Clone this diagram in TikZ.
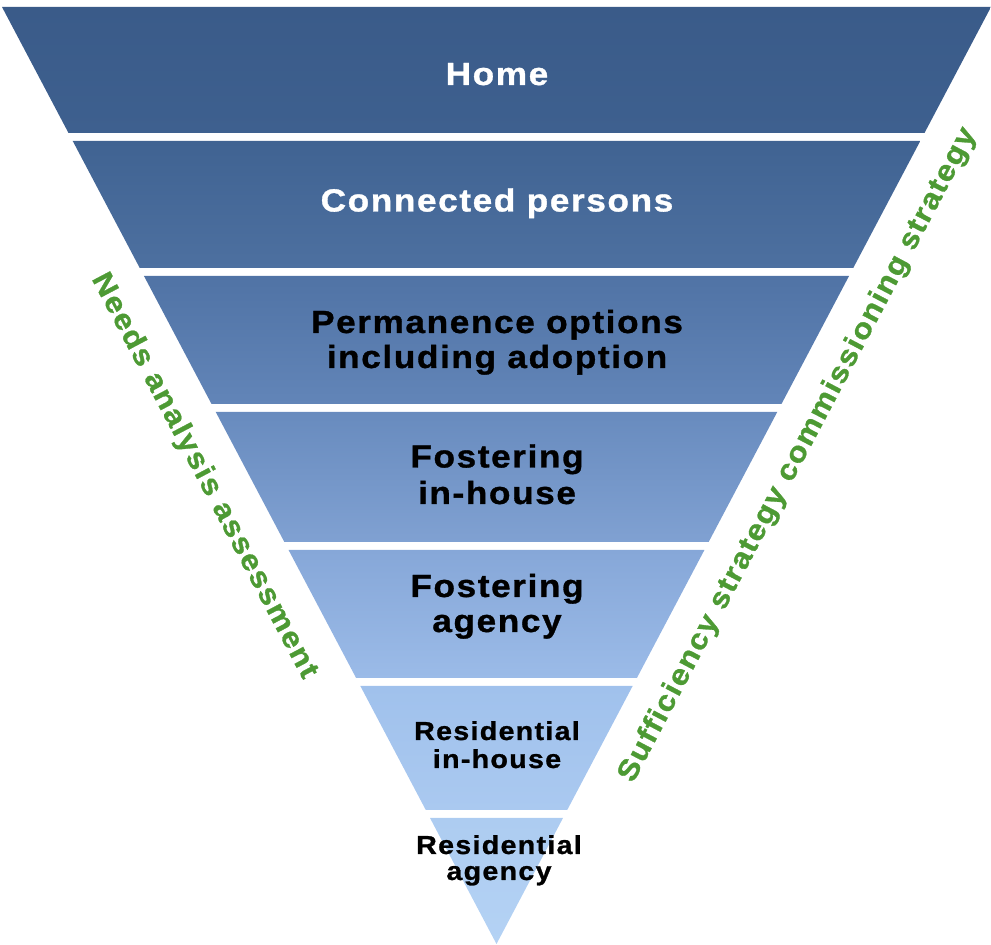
\documentclass[tikz,border=0pt]{standalone}
\usepackage{fontspec}
\newfontfamily\lblfont[FakeStretch=1.1,LetterSpace=5,FakeBold=1]{Liberation Sans}
\usetikzlibrary{calc}

% band colours, top to bottom
\definecolor{bandAt}{RGB}{58,91,137}   \definecolor{bandAb}{RGB}{62,96,143}
\definecolor{bandBt}{RGB}{64,99,146}   \definecolor{bandBb}{RGB}{77,112,160}
\definecolor{bandCt}{RGB}{80,115,165}  \definecolor{bandCb}{RGB}{98,133,184}
\definecolor{bandDt}{RGB}{104,139,190} \definecolor{bandDb}{RGB}{128,161,210}
\definecolor{bandEt}{RGB}{134,167,216} \definecolor{bandEb}{RGB}{155,187,232}
\definecolor{bandFt}{RGB}{160,193,236} \definecolor{bandFb}{RGB}{170,201,240}
\definecolor{bandGt}{RGB}{173,204,241} \definecolor{bandGb}{RGB}{180,210,244}
\definecolor{sidegreen}{RGB}{77,154,52}

\tikzset{
  bigtxt/.style={anchor=base, inner sep=0pt, font=\lblfont\bfseries\fontsize{32}{35}\selectfont},
  smalltxt/.style={anchor=base, inner sep=0pt, font=\lblfont\bfseries\fontsize{26}{28}\selectfont, text=black},
  sidetxt/.style={inner sep=0pt, text=sidegreen, font=\lblfont\bfseries\fontsize{29}{32}\selectfont},
}

\begin{document}
\begin{tikzpicture}[x=1pt,y=1pt]
\useasboundingbox (0,0) rectangle (991,945);

% corners of the inverted triangle
\coordinate (tl) at (2,938);
\coordinate (tr) at (991,938);
\coordinate (apex) at (496.5,1);

% the seven shaded bands, each a trapezoid cut from the triangle
\foreach \t/\b/\ct/\cb in {938/812/bandAt/bandAb, 804/677/bandBt/bandBb,
    669/541/bandCt/bandCb, 533/403/bandDt/bandDb, 395/267/bandEt/bandEb,
    259/135/bandFt/bandFb, 127/1/bandGt/bandGb}{
  \pgfmathsetmacro\wt{0.527748*(\t-1)}
  \pgfmathsetmacro\wb{0.527748*(\b-1)}
  \shade[top color=\ct, bottom color=\cb]
    (496.5-\wt,\t) -- (496.5+\wt,\t) -- (496.5+\wb,\b) -- (496.5-\wb,\b) -- cycle;
}

% band labels
\node[bigtxt, text=white] (home) at (497,860) {Home};
\node[bigtxt, text=white] (conn) at (497,733.5) {Connected persons};
\node[bigtxt, text=black] (perm1) at (497,612) {Permanence options};
\node[bigtxt, text=black] (perm2) at (497,577) {including adoption};
\node[bigtxt, text=black] (fih1) at (497,477.5) {Fostering};
\node[bigtxt, text=black] (fih2) at (497,441) {in-house};
\node[bigtxt, text=black] (fag1) at (497,348) {Fostering};
\node[bigtxt, text=black] (fag2) at (497,313) {agency};
\node[smalltxt] (rih1) at (497,205) {Residential};
\node[smalltxt] (rih2) at (497,177) {in-house};
\node[smalltxt] (rag1) at (499,91) {Residential};
\node[smalltxt] (rag2) at (499,65) {agency};

% labels running along the two sides
\node[sidetxt, rotate=-62.18] (needs) at (204,469) {Needs analysis assessment};
\node[sidetxt, rotate=62.18] (suff) at (798,490) {Sufficiency strategy commissioning strategy};
\end{tikzpicture}
\end{document}
